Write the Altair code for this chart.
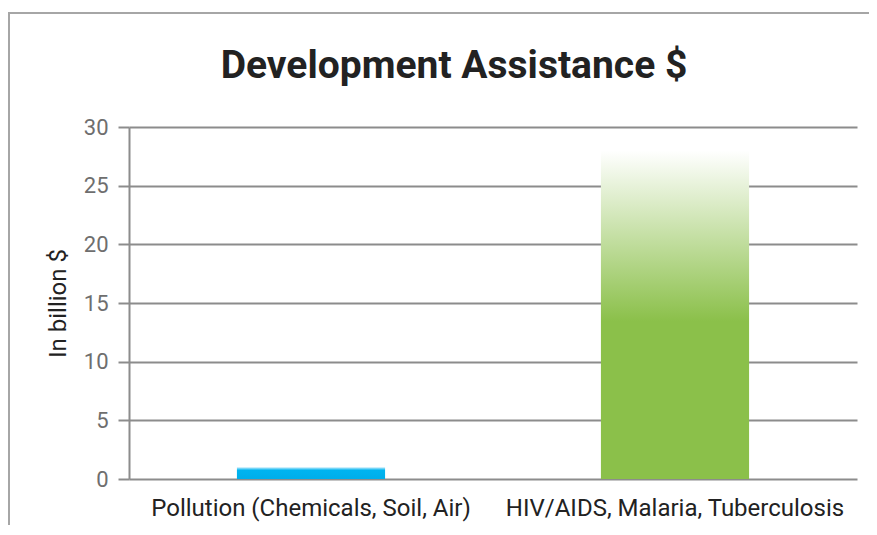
import altair as alt
import pandas as pd

categories = ["Pollution (Chemicals, Soil, Air)", "HIV/AIDS, Malaria, Tuberculosis"]
values = [1.0, 28.0]
y_ticks = [0, 5, 10, 15, 20, 25, 30]

df = pd.DataFrame({"category": categories, "value": values})

x_enc = alt.X("category:N", sort=categories, title=None,
              scale=alt.Scale(paddingInner=0.593, paddingOuter=0.2965),
              axis=alt.Axis(labelAngle=0, ticks=False, domain=False, grid=False,
                            labelFont="Roboto", labelFontSize=24, labelColor="#222222",
                            labelPadding=17, labelLimit=0))
y_enc = alt.Y("value:Q", title="In billion $",
              scale=alt.Scale(domain=[0, 30], nice=False),
              axis=alt.Axis(values=y_ticks, grid=True, gridColor="#8c8c8c", gridWidth=2,
                            tickColor="#8c8c8c", tickWidth=2, tickSize=11,
                            domainColor="#8c8c8c", domainWidth=2,
                            labelFont="Roboto", labelFontSize=22, labelColor="#6e6e6e",
                            labelPadding=10, titleFont="Roboto", titleFontSize=24,
                            titleFontWeight="normal", titleColor="#222222", titlePadding=13))

blue = alt.Gradient(gradient="linear", x1=0, x2=0, y1=0, y2=1,
                    stops=[alt.GradientStop(color="#c8edfb", offset=0),
                           alt.GradientStop(color="#00b4f0", offset=0.25),
                           alt.GradientStop(color="#00aeea", offset=1)])
green = alt.Gradient(gradient="linear", x1=0, x2=0, y1=0, y2=1,
                     stops=[alt.GradientStop(color="#ffffff", offset=0),
                            alt.GradientStop(color="#8bc04a", offset=0.52),
                            alt.GradientStop(color="#8bc04a", offset=1)])

base = alt.Chart(df)
bar1 = base.transform_filter(alt.datum.category == categories[0]).mark_bar(color=blue).encode(x=x_enc, y=y_enc)
bar2 = base.transform_filter(alt.datum.category == categories[1]).mark_bar(color=green).encode(x=x_enc, y=y_enc)

one = alt.Chart(pd.DataFrame({"a": [0]}))
top_rule = one.mark_rule(color="#a6a6a6", strokeWidth=2).encode(
    x=alt.value(-121), x2=alt.value(745), y=alt.value(-114))
left_rule = one.mark_rule(color="#a6a6a6", strokeWidth=2).encode(
    x=alt.value(-120), y=alt.value(-114), y2=alt.value(420))

chart = alt.layer(bar1, bar2, top_rule, left_rule).properties(
    width=728, height=352,
    autosize=alt.AutoSizeParams(type="none"),
    padding={"left": 121, "top": 119, "right": 12, "bottom": 46},
    title=alt.TitleParams("Development Assistance $", font="Roboto", fontSize=39,
                          fontWeight="bold", color="#222222", anchor="middle",
                          frame="group", baseline="alphabetic", dx=-39, dy=105, offset=0),
).configure_view(stroke=None)

chart.save("out.html", embed_options={"renderer": "svg", "actions": False})
